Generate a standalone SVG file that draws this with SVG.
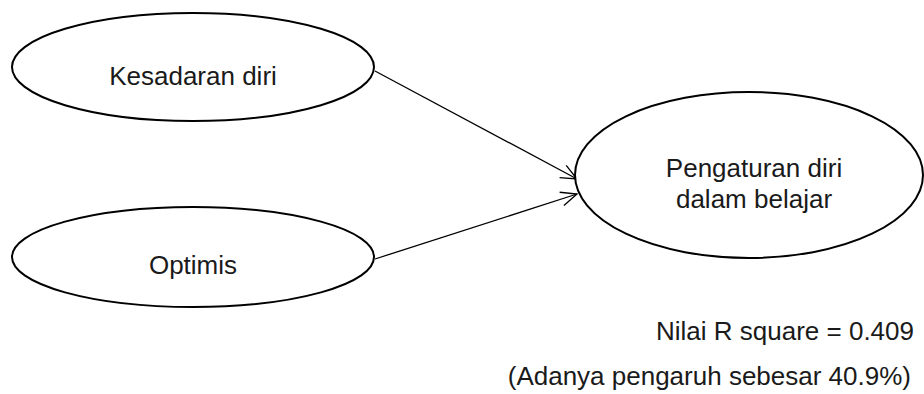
<svg xmlns="http://www.w3.org/2000/svg" width="924" height="394" viewBox="0 0 924 394">
  <style>
    .node ellipse { fill: #ffffff; stroke: #000000; stroke-width: 2; }
    .label { font-family: "Liberation Sans", Arial, sans-serif; font-size: 26px; fill: #1a1a1a; }
    .mid { text-anchor: middle; }
    .end { text-anchor: end; }
    .edge { stroke: #000000; stroke-width: 1.3; fill: none; }
  </style>
  <defs>
    <marker id="arrow-open" markerUnits="userSpaceOnUse" markerWidth="24" markerHeight="24" viewBox="-20 -12 24 24" refX="0" refY="0" orient="auto">
      <path d="M -16 -7 L 0 0 L -16 7" fill="none" stroke="#000000" stroke-width="1.3"/>
    </marker>
  </defs>
  <rect width="924" height="394" fill="#ffffff"/>

  <g id="connectors">
    <line class="edge" x1="375" y1="71" x2="577" y2="179" marker-end="url(#arrow-open)"/>
    <line class="edge" x1="375" y1="259" x2="577" y2="194" marker-end="url(#arrow-open)"/>
  </g>

  <g id="kesadaran-diri" class="node">
    <ellipse cx="193" cy="67" rx="181" ry="54"/>
    <text class="label mid" x="193" y="85">Kesadaran diri</text>
  </g>

  <g id="optimis" class="node">
    <ellipse cx="193" cy="257" rx="181" ry="50"/>
    <text class="label mid" x="193" y="274">Optimis</text>
  </g>

  <g id="pengaturan-diri" class="node">
    <ellipse cx="749" cy="175" rx="174" ry="83"/>
    <text class="label mid" x="754" y="177">Pengaturan diri</text>
    <text class="label mid" x="754" y="208">dalam belajar</text>
  </g>

  <g id="r-square">
    <text class="label end" x="914" y="340">Nilai R square = 0.409</text>
    <text class="label end" x="911" y="385">(Adanya pengaruh sebesar 40.9%)</text>
  </g>
</svg>
